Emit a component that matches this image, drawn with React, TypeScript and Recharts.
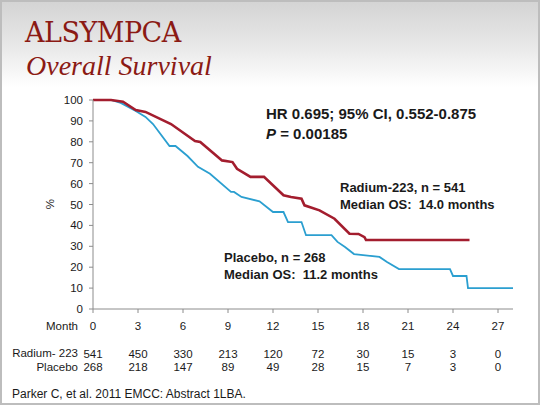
import React from "react"
import { LineChart, Line, XAxis, YAxis } from "recharts"

// x-axis months and number-at-risk table
const months = [0, 3, 6, 9, 12, 15, 18, 21, 24, 27]
const radiumAtRisk = [541, 450, 330, 213, 120, 72, 30, 15, 3, 0]
const placeboAtRisk = [268, 218, 147, 89, 49, 28, 15, 7, 3, 0]
const yTicks = [0, 10, 20, 30, 40, 50, 60, 70, 80, 90, 100]

// Kaplan-Meier curves
const radiumMonths = [
  0, 1.2, 2.0, 2.85, 3.5, 5.2, 6.8, 7.15, 8.6, 9.3, 9.6, 10.5, 11.4, 12.7,
  13.2, 13.9, 14.1, 15.1, 16.1, 17.1, 17.7, 18.1, 18.2, 25.1,
]
const radiumSurvival = [
  100, 100, 99.2, 95.2, 94.3, 88.5, 80.4, 79.9, 71.1, 70.3, 67.1, 63.2, 63.2,
  54.4, 53.6, 52.8, 49.6, 47.2, 43.2, 36.0, 35.9, 34.4, 33.0, 33.0,
]
const placeboMonths = [
  0, 1.2, 1.85, 2.85, 3.5, 4.0, 5.1, 5.5, 6.3, 7.0, 7.8, 9.2, 9.4, 9.9, 11.1,
  12.0, 12.7, 13.0, 13.9, 14.2, 15.9, 16.3, 16.8, 17.4, 19.1, 19.6, 20.4, 23.8,
  24.0, 24.9, 25.0, 28,
]
const placeboSurvival = [
  100, 100, 98.6, 94.7, 91.9, 88.5, 78.0, 78.0, 73.2, 68.0, 64.7, 56.0, 56.0,
  53.6, 51.5, 46.4, 46.4, 41.6, 41.6, 35.3, 35.3, 32.1, 29.7, 26.3, 24.9, 22.5,
  19.1, 19.1, 15.8, 15.8, 10.0, 10.0,
]

const toPoints = (m: number[], s: number[]) =>
  m.map((month, i) => ({ month, pct: s[i] }))

const radiumData = toPoints(radiumMonths, radiumSurvival)
const placeboData = toPoints(placeboMonths, placeboSurvival)

const SANS = "'Liberation Sans', Arial, sans-serif"
const INK = "#1a1a1a"
const AXIS = "#8c8c8c"

// month label plus the two number-at-risk rows under it
const MonthTick = (props: any) => {
  const { x, y, payload } = props
  const i = months.indexOf(payload.value)
  const common = { x, textAnchor: "middle" as const, fontSize: 11.5, fill: INK, fontFamily: SANS }
  return (
    <g>
      <text {...common} y={y + 8.2}>{payload.value}</text>
      <text {...common} y={y + 35.8}>{radiumAtRisk[i]}</text>
      <text {...common} y={y + 49.3}>{placeboAtRisk[i]}</text>
    </g>
  )
}

const abs = (style: React.CSSProperties): React.CSSProperties => ({
  position: "absolute",
  whiteSpace: "pre",
  ...style,
})

export default function App() {
  return (
    <div
      style={{
        position: "absolute",
        left: 0,
        top: 0,
        width: 540,
        height: 405,
        boxSizing: "border-box",
        border: "2px solid #bdbdbd",
        background: "linear-gradient(to bottom, #d4d4d4 0px, #e6e6e6 40px, #ffffff 85px, #ffffff 405px)",
        overflow: "hidden",
        fontFamily: SANS,
        color: INK,
      }}
    >
      <div style={abs({ left: 0, top: 0, width: 540, height: 405 })}>
        <LineChart
          width={540}
          height={405}
          margin={{ top: 98, right: 29, bottom: 68, left: 31 }}
        >
          <XAxis
            dataKey="month"
            type="number"
            domain={[0, 28]}
            ticks={months}
            allowDataOverflow
            height={30}
            stroke={AXIS}
            tickSize={4}
            tickMargin={9}
            tick={<MonthTick />}
          />
          <YAxis
            type="number"
            domain={[0, 100]}
            ticks={yTicks}
            width={60}
            stroke={AXIS}
            tickSize={4}
            tickMargin={6}
            tick={{ fill: INK, fontSize: 11.5, fontFamily: SANS }}
          />
          <Line
            data={placeboData}
            dataKey="pct"
            type="linear"
            stroke="#2b9fd0"
            strokeWidth={1.8}
            dot={false}
            isAnimationActive={false}
          />
          <Line
            data={radiumData}
            dataKey="pct"
            type="linear"
            stroke="#a31d2e"
            strokeWidth={2.6}
            dot={false}
            isAnimationActive={false}
          />
        </LineChart>
      </div>

      <div
        style={abs({
          left: 23,
          top: 17,
          fontFamily: "'DejaVu Serif', serif",
          fontSize: 27,
          lineHeight: "27px",
          letterSpacing: -0.5,
          color: "#8b1a14",
        })}
      >
        ALSYMPCA
      </div>
      <div
        style={abs({
          left: 24,
          top: 50,
          fontFamily: "'Liberation Serif', serif",
          fontStyle: "italic",
          fontSize: 28,
          lineHeight: "28px",
          color: "#8b1a14",
        })}
      >
        Overall Survival
      </div>

      <div style={abs({ left: 264, top: 102, fontSize: 15, lineHeight: "20px", fontWeight: "bold" })}>
        HR 0.695; 95% CI, 0.552-0.875
        <br />
        <i>P</i> = 0.00185
      </div>

      <div style={abs({ left: 338, top: 178, fontSize: 13, lineHeight: "16.7px", fontWeight: "bold" })}>
        Radium-223, n = 541
        <br />
        Median OS:  14.0 months
      </div>
      <div style={abs({ left: 222, top: 248, fontSize: 13, lineHeight: "16.7px", fontWeight: "bold" })}>
        Placebo, n = 268
        <br />
        Median OS:  11.2 months
      </div>

      <div
        style={abs({
          left: 42,
          top: 195,
          width: 12,
          height: 14,
          fontSize: 11.5,
          lineHeight: "14px",
          textAlign: "center",
          transform: "rotate(-90deg)",
        })}
      >
        %
      </div>

      <div style={abs({ right: 460, top: 317.7, fontSize: 11.5, lineHeight: "13px", textAlign: "right" })}>
        Month
      </div>
      <div style={abs({ right: 460, top: 345.3, fontSize: 11.5, lineHeight: "13px", textAlign: "right" })}>
        Radium- 223
      </div>
      <div style={abs({ right: 460, top: 358.8, fontSize: 11.5, lineHeight: "13px", textAlign: "right" })}>
        Placebo
      </div>

      <div style={abs({ left: 10, top: 384.5, fontSize: 12, lineHeight: "14px" })}>
        Parker C, et al. 2011 EMCC: Abstract 1LBA.
      </div>
    </div>
  )
}
